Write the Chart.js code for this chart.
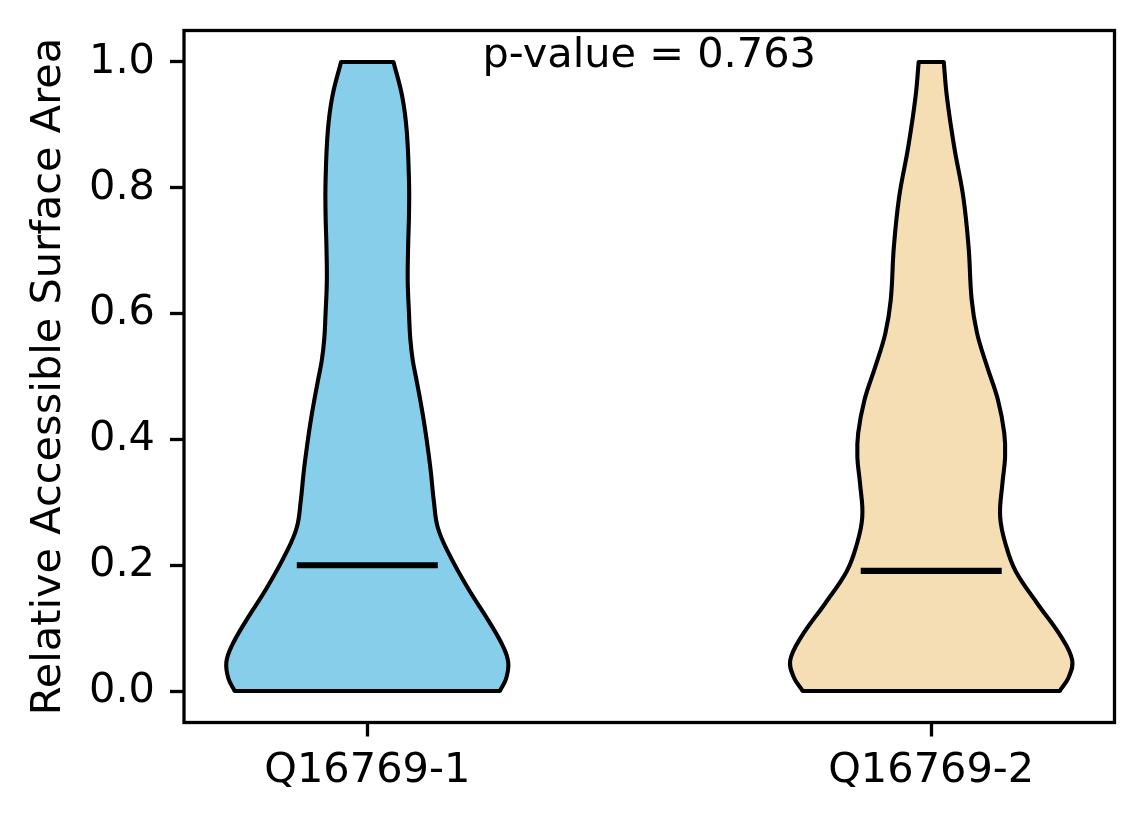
<!DOCTYPE html>
<html>
<head>
<meta charset="utf-8">
<script src="https://cdn.jsdelivr.net/npm/chart.js@4.4.1/dist/chart.umd.min.js"></script>
<style>
  html, body { margin: 0; padding: 0; background: #fff; }
</style>
</head>
<body>
<canvas id="violinChart" width="1144" height="824"></canvas>
<script>
// categories and positions on the x axis
const categories = ['Q16769-1', 'Q16769-2'];
const positions = [1, 2];
const yTicks = [0.0, 0.2, 0.4, 0.6, 0.8, 1.0];

// RSA levels where the outline was read, and relative density (1 = widest point)
const rsa1 = [0, 0.02, 0.045, 0.07, 0.11, 0.165, 0.22, 0.26, 0.30, 0.35, 0.39, 0.435, 0.49, 0.525, 0.56, 0.60, 0.65, 0.70, 0.76, 0.81, 0.89, 0.945, 1.0];
const density1 = [0.94, 0.985, 1.0, 0.965, 0.865, 0.71, 0.575, 0.50, 0.473, 0.45, 0.427, 0.397, 0.353, 0.323, 0.305, 0.296, 0.287, 0.289, 0.296, 0.296, 0.28, 0.248, 0.186];

const rsa2 = [0, 0.022, 0.049, 0.086, 0.14, 0.19, 0.23, 0.277, 0.33, 0.372, 0.41, 0.463, 0.516, 0.569, 0.622, 0.706, 0.786, 0.865, 0.945, 1.0];
const density2 = [0.911, 0.975, 1.0, 0.922, 0.75, 0.60, 0.532, 0.489, 0.505, 0.524, 0.518, 0.473, 0.396, 0.325, 0.287, 0.265, 0.227, 0.163, 0.111, 0.089];

const means = [0.200, 0.191];
const pValue = 0.763;

const fillColors = ['#87ceeb', '#f5deb3'];
const HALF_WIDTH = 0.25;   // violin widths = 0.5
const MEAN_HALF = 0.125;
const FONT_SIZE = 41.5;

Chart.defaults.font.family = '"DejaVu Sans", sans-serif';
Chart.defaults.font.size = FONT_SIZE;
Chart.defaults.color = '#000';

// left side going up, flat top, right side coming down.
// the top corners are repeated so the spline keeps the flat cap straight
function outline(pos, levels, dens) {
    const left = levels.map((y, i) => ({ x: pos - dens[i] * HALF_WIDTH, y: y }));
    const right = levels.map((y, i) => ({ x: pos + dens[i] * HALF_WIDTH, y: y })).reverse();
    const tl = left[left.length - 1], tr = right[0];
    return left.concat([{ x: tl.x, y: tl.y }, { x: tr.x, y: tr.y }], right);
}

const violins = [
    { levels: rsa1, dens: density1 },
    { levels: rsa2, dens: density2 }
];

const datasets = [];
violins.forEach((v, k) => {
    const pos = positions[k];
    const pts = outline(pos, v.levels, v.dens);
    datasets.push({
        data: [{ x: pos - MEAN_HALF, y: means[k] }, { x: pos + MEAN_HALF, y: means[k] }],
        borderColor: '#000',
        borderWidth: 6.2,
        borderCapStyle: 'butt',
        fill: false,
        order: 0
    });
    datasets.push({
        data: [pts[0], pts[pts.length - 1]],
        borderColor: '#000',
        borderWidth: 4.1,
        borderCapStyle: 'round',
        fill: false,
        order: 1
    });
    datasets.push({
        data: pts,
        backgroundColor: fillColors[k],
        borderColor: '#000',
        borderWidth: 4.1,
        borderJoinStyle: 'round',
        fill: 'shape',
        tension: 0.4,
        order: 2
    });
});

// box round the plot and the p-value note
const framePlugin = {
    id: 'frame',
    afterDraw(chart) {
        const { ctx, chartArea: a, scales } = chart;
        ctx.save();
        ctx.strokeStyle = '#000';
        ctx.lineWidth = 3.3;
        ctx.strokeRect(a.left, a.top, a.right - a.left, a.bottom - a.top);
        ctx.font = FONT_SIZE + 'px "DejaVu Sans"';
        ctx.fillStyle = '#000';
        ctx.textAlign = 'center';
        ctx.textBaseline = 'alphabetic';
        ctx.fillText('p-value = ' + pValue.toFixed(3), (a.left + a.right) / 2, scales.y.getPixelForValue(1.0) + 5);
        ctx.restore();
    }
};

new Chart(document.getElementById('violinChart'), {
    type: 'line',
    data: { datasets: datasets },
    plugins: [framePlugin],
    options: {
        responsive: false,
        animation: false,
        devicePixelRatio: 1,
        layout: { padding: { top: 30.5, right: 29.5, left: 0, bottom: 0 } },
        elements: { point: { radius: 0, hoverRadius: 0 } },
        plugins: {
            legend: { display: false },
            tooltip: { enabled: false }
        },
        scales: {
            x: {
                type: 'linear',
                position: 'bottom',
                min: 0.675,
                max: 2.325,
                afterBuildTicks: s => { s.ticks = positions.map(v => ({ value: v })); },
                afterFit: s => { s.height = 101.5; s.paddingLeft = 0; s.paddingRight = 0; },
                ticks: {
                    autoSkip: false,
                    maxRotation: 0,
                    padding: 10,
                    callback: v => categories[positions.indexOf(v)] || ''
                },
                grid: {
                    display: true,
                    drawOnChartArea: false,
                    drawTicks: true,
                    tickLength: 14,
                    tickWidth: 3.3,
                    tickColor: '#000'
                },
                border: { display: false }
            },
            y: {
                type: 'linear',
                position: 'left',
                min: -0.05,
                max: 1.05,
                afterBuildTicks: s => { s.ticks = yTicks.map(v => ({ value: v })); },
                afterFit: s => { s.width = 184; s.paddingTop = 0; s.paddingBottom = 0; },
                ticks: {
                    padding: 15,
                    callback: v => v.toFixed(1)
                },
                grid: {
                    display: true,
                    drawOnChartArea: false,
                    drawTicks: true,
                    tickLength: 14,
                    tickWidth: 3.3,
                    tickColor: '#000'
                },
                border: { display: false },
                title: {
                    display: true,
                    text: 'Relative Accessible Surface Area',
                    font: { size: FONT_SIZE },
                    color: '#000',
                    padding: { top: 24, bottom: 0 }
                }
            }
        }
    }
});
</script>
</body>
</html>
